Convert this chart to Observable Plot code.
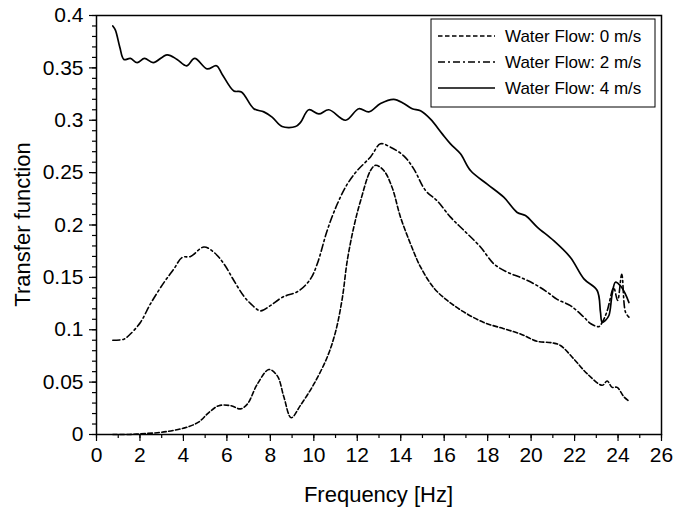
<!DOCTYPE html>
<html>
<head>
<meta charset="utf-8">
<script src="https://cdn.jsdelivr.net/npm/d3@7"></script>
<script src="https://cdn.jsdelivr.net/npm/@observablehq/plot@0.6"></script>
<style>
  html, body { margin: 0; padding: 0; background: #fff; }
  #chart { width: 673px; height: 510px; }
</style>
</head>
<body>
<div id="chart"></div>
<script>
// ---- Data ----
const seriesLabels = ["Water Flow: 0 m/s", "Water Flow: 2 m/s", "Water Flow: 4 m/s"];

const freq0 = [0.75,1.5,2.3,2.95,3.56,4.17,4.71,5.17,5.63,6.17,6.63,6.94,7.4,7.93,8.32,8.62,8.96,9.39,10.0,10.62,11.0,11.31,11.54,11.84,12.15,12.61,12.84,13.22,13.6,13.99,14.45,14.91,15.52,16.14,16.9,17.82,18.74,19.51,20.28,20.97,21.35,21.97,22.58,23.27,23.5,23.73,23.96,24.27,24.5];
const tf0   = [0,0,0.001,0.002,0.004,0.007,0.012,0.021,0.0275,0.0275,0.0245,0.029,0.048,0.062,0.056,0.036,0.016,0.028,0.048,0.074,0.098,0.13,0.166,0.198,0.223,0.252,0.257,0.252,0.236,0.2075,0.182,0.16,0.14,0.128,0.117,0.107,0.101,0.096,0.089,0.0875,0.085,0.072,0.058,0.047,0.051,0.045,0.045,0.036,0.032];

const freq2 = [0.75,1.26,1.49,2.02,2.49,3.1,3.56,3.94,4.33,4.94,5.4,5.86,6.32,6.78,7.09,7.55,8.0,8.55,9.3,9.85,10.16,10.62,11.08,11.54,12.0,12.61,13.07,13.53,14.14,14.6,15.14,15.68,16.29,16.9,17.67,18.28,18.9,19.51,20.12,20.74,21.2,21.81,22.43,22.73,23.12,23.27,23.5,23.8,23.98,24.17,24.34,24.5];
const tf2   = [0.090,0.091,0.0945,0.107,0.125,0.145,0.158,0.169,0.170,0.179,0.174,0.163,0.147,0.132,0.125,0.118,0.123,0.131,0.137,0.1486,0.163,0.195,0.220,0.239,0.252,0.265,0.2775,0.2743,0.266,0.2536,0.233,0.223,0.2075,0.195,0.179,0.163,0.155,0.150,0.144,0.136,0.129,0.123,0.112,0.106,0.103,0.107,0.118,0.140,0.128,0.153,0.117,0.112];

const freq4 = [0.75,0.87,1.07,1.26,1.56,1.87,2.21,2.61,3.25,3.71,4.14,4.52,5.09,5.52,5.78,6.32,6.67,7.24,7.7,8.08,8.54,9.16,9.39,9.77,10.23,10.69,11.46,12.07,12.53,13.07,13.68,14.14,14.53,14.91,15.37,15.91,16.29,16.75,17.21,17.98,18.74,19.36,19.74,20.28,21.04,21.81,22.43,23.04,23.19,23.27,23.42,23.58,23.73,23.88,24.11,24.34,24.5];
const tf4   = [0.39,0.386,0.370,0.358,0.359,0.355,0.359,0.355,0.3625,0.358,0.352,0.359,0.349,0.352,0.344,0.328,0.327,0.311,0.308,0.303,0.294,0.294,0.298,0.31,0.306,0.31,0.300,0.311,0.308,0.316,0.320,0.316,0.311,0.309,0.301,0.287,0.2775,0.268,0.252,0.239,0.2265,0.212,0.209,0.198,0.185,0.169,0.1486,0.1375,0.117,0.107,0.109,0.1136,0.134,0.1454,0.142,0.134,0.126];

const xMajorTicks = [0,2,4,6,8,10,12,14,16,18,20,22,24,26];
const xMinorTicks = d3.range(0, 27, 1);
const yMajorTicks = [0,0.05,0.1,0.15,0.2,0.25,0.3,0.35,0.4];
const yMinorTicks = d3.range(0, 41).map(i => i / 100);

// ---- Build tables ----
const toRows = (fx, fy, s) => fx.map((f, i) => ({freq: f, tf: fy[i], series: s}));
const rows0 = toRows(freq0, tf0, seriesLabels[0]);
const rows2 = toRows(freq2, tf2, seriesLabels[1]);
const rows4 = toRows(freq4, tf4, seriesLabels[2]);

const dashes = ["4.5,2.5", "7,3,2,3", null];
const FONT = "'Liberation Sans', Arial, Helvetica, sans-serif";

const plot = Plot.plot({
  width: 673,
  height: 510,
  marginLeft: 96,
  marginRight: 12,
  marginTop: 15,
  marginBottom: 76,
  style: {fontFamily: FONT, background: "#fff", color: "#000", overflow: "visible"},
  x: {domain: [0, 26]},
  y: {domain: [0, 0.4]},
  marks: [
    Plot.axisX({ticks: xMinorTicks, tickSize: 4, text: null, label: null, strokeWidth: 1.2}),
    Plot.axisX({ticks: xMajorTicks, tickSize: 7, tickPadding: 6, label: null, fontSize: 21, strokeWidth: 1.2, tickFormat: d => String(d)}),
    Plot.axisY({ticks: yMinorTicks, tickSize: 4, text: null, label: null, strokeWidth: 1.2}),
    Plot.axisY({ticks: yMajorTicks, tickSize: 7, tickPadding: 6, label: null, fontSize: 21, strokeWidth: 1.2, tickFormat: d3.format("~g")}),
    Plot.line(rows0, {x: "freq", y: "tf", curve: "catmull-rom", stroke: "#000", strokeWidth: 1.6, strokeDasharray: dashes[0]}),
    Plot.line(rows2, {x: "freq", y: "tf", curve: "catmull-rom", stroke: "#000", strokeWidth: 1.6, strokeDasharray: dashes[1]}),
    Plot.line(rows4, {x: "freq", y: "tf", curve: "catmull-rom", stroke: "#000", strokeWidth: 1.7}),
    Plot.frame({stroke: "#000", strokeWidth: 1.5})
  ]
});

document.getElementById("chart").appendChild(plot);

// ---- Axis titles & legend ----
const svgSel = d3.select(plot);
const padLeft = 96, padRight = 673 - 12, padTop = 15, padBottom = 510 - 76;

svgSel.append("text")
  .attr("x", (padLeft + padRight) / 2).attr("y", 502)
  .attr("text-anchor", "middle")
  .style("font-family", FONT).style("font-size", "22px").attr("fill", "#000")
  .text("Frequency [Hz]");

svgSel.append("text")
  .attr("transform", `translate(30,${(padTop + padBottom) / 2}) rotate(-90)`)
  .attr("text-anchor", "middle")
  .style("font-family", FONT).style("font-size", "22px").attr("fill", "#000")
  .text("Transfer function");

const lg = svgSel.append("g");
lg.append("rect")
  .attr("x", 431).attr("y", 19).attr("width", 224).attr("height", 88)
  .attr("fill", "#fff").attr("stroke", "#000").attr("stroke-width", 1);
const rowY = [36, 62, 88];
seriesLabels.forEach((lab, i) => {
  const l = lg.append("line")
    .attr("x1", 438).attr("x2", 495).attr("y1", rowY[i]).attr("y2", rowY[i])
    .attr("stroke", "#000").attr("stroke-width", i === 2 ? 1.7 : 1.6);
  if (dashes[i]) l.attr("stroke-dasharray", dashes[i]);
  lg.append("text")
    .attr("x", 505).attr("y", rowY[i]).attr("dy", "0.35em")
    .attr("text-anchor", "start")
    .style("font-family", FONT).style("font-size", "17px").attr("fill", "#000")
    .text(lab);
});
</script>
</body>
</html>
